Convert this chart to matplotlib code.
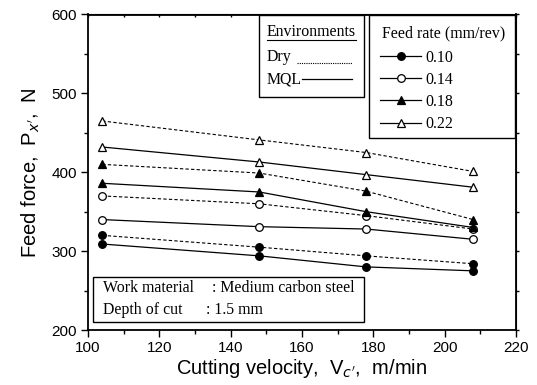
import matplotlib.pyplot as plt
from matplotlib.lines import Line2D
from matplotlib.patches import Rectangle
from matplotlib.ticker import MultipleLocator

# data
velocity = [104, 148, 178, 208]
feed_rates = ["0.10", "0.14", "0.18", "0.22"]

dry_010 = [320, 305, 294, 284]
dry_014 = [370, 360, 345, 328]
dry_018 = [410, 399, 376, 340]
dry_022 = [465, 441, 425, 401]

mql_010 = [309, 294, 280, 275]
mql_014 = [340, 331, 328, 315]
mql_018 = [386, 375, 350, 330]
mql_022 = [432, 413, 397, 381]

markers = ["o", "o", "^", "^"]
faces = ["black", "white", "black", "white"]

serif = "Liberation Serif"
sans = "Liberation Sans"
fs = 11.4

fig = plt.figure(figsize=(5.37, 3.85), dpi=100)
ax = fig.add_axes([88 / 537, 55 / 385, 428 / 537, 315.5 / 385])


def ax_xy(px, py):
    # pixel position in the figure -> axes fraction
    return (px - 88) / 428, (330 - py) / 315.5


dry = [dry_010, dry_014, dry_018, dry_022]
mql = [mql_010, mql_014, mql_018, mql_022]

for i in range(4):
    ax.plot(velocity, dry[i], color="black", lw=0.8, ls=(0, (3, 2)),
            marker=markers[i], mfc=faces[i], mec="black", ms=5.5, mew=0.9)
    ax.plot(velocity, mql[i], color="black", lw=0.9,
            marker=markers[i], mfc=faces[i], mec="black", ms=5.5, mew=0.9,
            label=feed_rates[i])

ax.set_xlim(100, 220)
ax.set_ylim(200, 600)
ax.xaxis.set_major_locator(MultipleLocator(20))
ax.xaxis.set_minor_locator(MultipleLocator(10))
ax.yaxis.set_major_locator(MultipleLocator(100))
ax.yaxis.set_minor_locator(MultipleLocator(50))
ax.tick_params(which="both", direction="out", labelsize=11, width=1, pad=3)
ax.tick_params(which="major", length=5)
ax.tick_params(which="minor", length=3)
for lab in ax.get_xticklabels() + ax.get_yticklabels():
    lab.set_family(sans)
for s in ax.spines.values():
    s.set_linewidth(1.3)

# small ticks on top and right
top = ax.secondary_xaxis("top")
top.xaxis.set_major_locator(MultipleLocator(10))
top.tick_params(direction="in", length=2, width=1, labeltop=False)
right = ax.secondary_yaxis("right")
right.yaxis.set_major_locator(MultipleLocator(50))
right.tick_params(direction="out", length=2, width=1, labelright=False)

ax.set_xlabel("Cutting velocity,  V$_{c'}$,  m/min", fontsize=14.5,
              family=sans, labelpad=1)
ax.set_ylabel("Feed force,  P$_{x'}$,  N", fontsize=14.5, family=sans,
              labelpad=7)

# feed rate legend
x0, y0 = ax_xy(369, 138)
x1, y1 = ax_xy(515, 15)
ax.add_patch(Rectangle((x0, y0), x1 - x0, y1 - y0, transform=ax.transAxes,
                       fc="white", ec="black", lw=1.0, zorder=5))
ax.text(*ax_xy(382, 33), "Feed rate (mm/rev)", transform=ax.transAxes,
        family=serif, fontsize=fs, va="center", zorder=6)
leg = ax.legend(loc="upper left", bbox_to_anchor=ax_xy(380, 50),
                borderaxespad=0, borderpad=0, frameon=False,
                prop={"family": serif, "size": fs},
                handlelength=2.6, handletextpad=0.25, labelspacing=0.38)
leg.set_zorder(7)

# environments box
x0, y0 = ax_xy(259, 97)
x1, y1 = ax_xy(364, 15)
ax.add_patch(Rectangle((x0, y0), x1 - x0, y1 - y0, transform=ax.transAxes,
                       fc="white", ec="black", lw=1.0, zorder=5))
ax.text(*ax_xy(267, 32), "Environments", transform=ax.transAxes,
        family=serif, fontsize=fs, va="center", zorder=6)
ax.add_line(Line2D([ax_xy(267, 0)[0], ax_xy(356, 0)[0]],
                   [ax_xy(0, 40)[1]] * 2, transform=ax.transAxes,
                   color="black", lw=0.8, zorder=6))
ax.text(*ax_xy(267, 57), "Dry", transform=ax.transAxes, family=serif,
        fontsize=fs, va="center", zorder=6)
ax.add_line(Line2D([ax_xy(297, 0)[0], ax_xy(352, 0)[0]],
                   [ax_xy(0, 63)[1]] * 2, transform=ax.transAxes,
                   color="black", lw=0.8, ls=(0, (1, 1)), zorder=6))
ax.text(*ax_xy(267, 80), "MQL", transform=ax.transAxes, family=serif,
        fontsize=fs, va="center", zorder=6)
ax.add_line(Line2D([ax_xy(302, 0)[0], ax_xy(352, 0)[0]],
                   [ax_xy(0, 79)[1]] * 2, transform=ax.transAxes,
                   color="black", lw=0.9, zorder=6))

# work material box
x0, y0 = ax_xy(93, 322)
x1, y1 = ax_xy(364, 277)
ax.add_patch(Rectangle((x0, y0), x1 - x0, y1 - y0, transform=ax.transAxes,
                       fc="white", ec="black", lw=1.0, zorder=5))
ax.text(*ax_xy(103, 288), "Work material", transform=ax.transAxes,
        family=serif, fontsize=fs, va="center", zorder=6)
ax.text(*ax_xy(212, 288), ": Medium carbon steel", transform=ax.transAxes,
        family=serif, fontsize=fs, va="center", zorder=6)
ax.text(*ax_xy(103, 310), "Depth of cut", transform=ax.transAxes,
        family=serif, fontsize=fs, va="center", zorder=6)
ax.text(*ax_xy(206, 310), ": 1.5 mm", transform=ax.transAxes, family=serif,
        fontsize=fs, va="center", zorder=6)

fig.savefig("out.png", dpi=100)
plt.close(fig)
